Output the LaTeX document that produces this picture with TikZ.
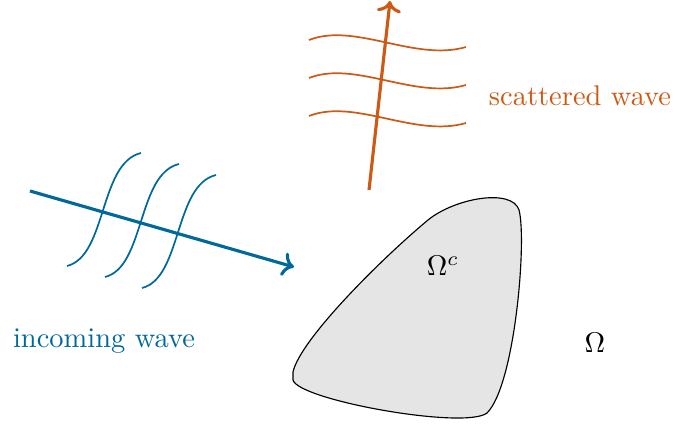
\documentclass[tikz,border=0pt]{standalone}
\usepackage{amsmath,amssymb}
\usepackage{xcolor}
\usetikzlibrary{arrows.meta, positioning, calc}
\definecolor{WaveBlue}{RGB}{0,104,154}
\definecolor{WaveOrange}{RGB}{204,90,22}
\definecolor{ObstacleGray}{HTML}{E5E5E5}

\begin{document}
\begin{tikzpicture}[
  x=0.01235cm, y=-0.01235cm,
  ray/.style={->, line width=1.1pt},
  front/.style={semithick},
  obstacle/.style={draw=black, thin, fill=ObstacleGray},
  label/.style={font=\normalsize}
]
\useasboundingbox (0,0) rectangle (675,430);

% obstacle
\draw[obstacle] (293,372) .. controls (300,340) and (380,260) .. (428,220)
  .. controls (455,198) and (512,188) .. (519,210)
  .. controls (527,240) and (515,385) .. (487,413)
  .. controls (465,430) and (298,400) .. (293,380) -- cycle;
\node[label] (omegac) at (443,266) {$\Omega^c$};
\node[label] (omega) at (595,343) {$\Omega$};

% incoming wave
\coordinate (inStart) at (30,191);
\coordinate (inEnd) at (294,267);
\foreach \dx/\dy in {0/0, 38/11, 75/22}
  \draw[front, WaveBlue] ($(67,266)+(\dx,\dy)$) .. controls ($(107,256)+(\dx,\dy)$) and ($(99,163)+(\dx,\dy)$) .. ($(141,153)+(\dx,\dy)$);
\draw[ray, WaveBlue] (inStart) -- (inEnd);
\node[label, WaveBlue] (incoming) at (104,341) {incoming wave};

% scattered wave
\coordinate (outStart) at (369,190);
\coordinate (outEnd) at (390,1);
\foreach \dy in {0, 38, 76}
  \draw[front, WaveOrange] (309,40+\dy) .. controls (355,22+\dy) and (415,62+\dy) .. (466,47+\dy);
\draw[ray, WaveOrange] (outStart) -- (outEnd);
\node[label, WaveOrange] (scattered) at (580,96) {scattered wave};

\end{tikzpicture}
\end{document}
